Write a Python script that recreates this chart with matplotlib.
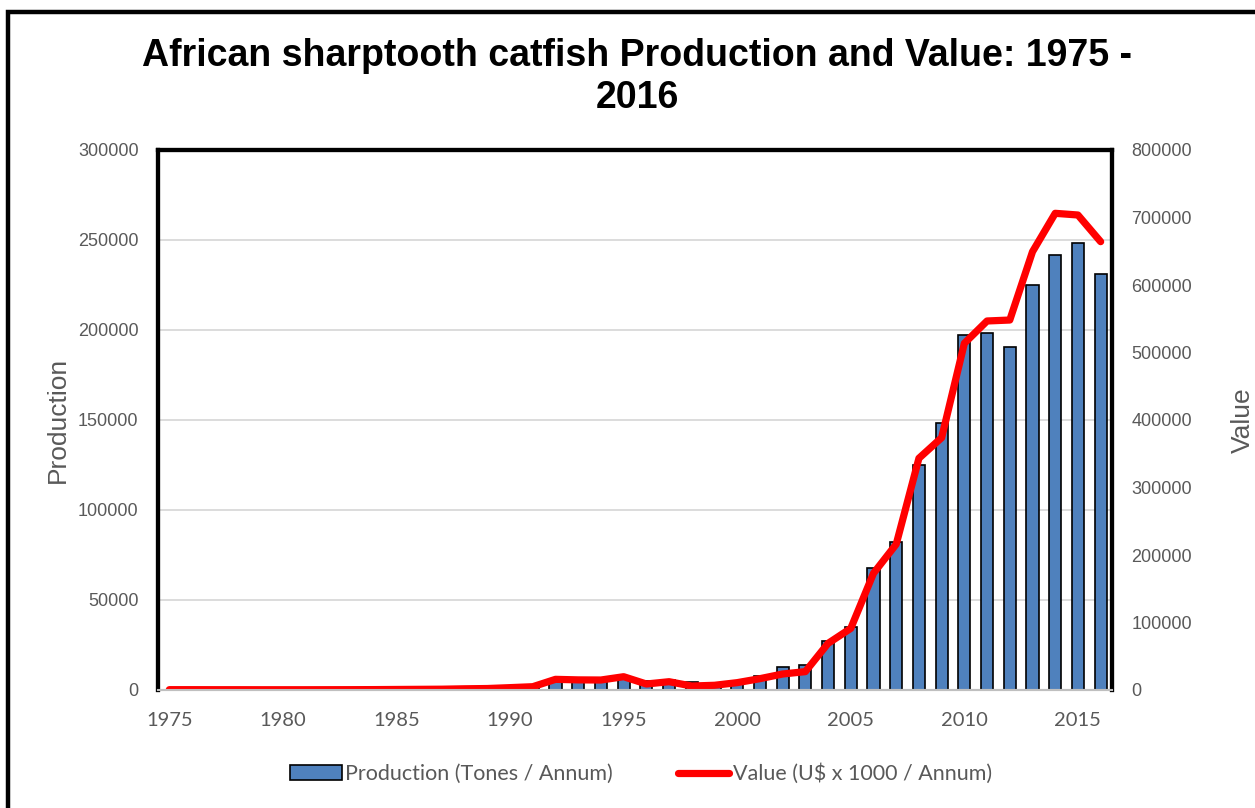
import matplotlib.pyplot as plt
import matplotlib.patches as mpatches
from matplotlib.lines import Line2D
import numpy as np

years = list(range(1975, 2017))
production = [200, 150, 150, 150, 150, 150, 150, 150, 200, 250,
              300, 400, 500, 700, 900, 1500, 2500, 6000, 5500, 5000,
              6500, 5000, 5500, 4500, 4000, 5000, 8000, 13000, 14000, 27300,
              35200, 67600, 82400, 125000, 148300, 197000, 198300, 190400, 225000, 241700,
              248200, 231000]
value = [500, 500, 450, 450, 400, 400, 400, 450, 500, 600,
         800, 1000, 1200, 1800, 2200, 3500, 4900, 15800, 15000, 14800,
         19700, 8900, 12300, 5900, 7000, 10900, 16800, 23700, 27200, 69100,
         91300, 172900, 216000, 343300, 373800, 513600, 546700, 548100, 649300, 706200,
         703700, 664200]

bar_color = '#4F81BD'
grey = '#595959'

x = np.arange(len(years))

fig = plt.figure(figsize=(12.55, 8.08), dpi=100)
ax = fig.add_axes([158/1255, 1 - 690/808, (1112 - 158)/1255, (690 - 150)/808])
ax2 = ax.twinx()

ax.bar(x, production, width=0.53, color=bar_color, edgecolor='black', linewidth=1.2, zorder=2)
ax2.plot(x, value, color='#FF0000', linewidth=5.2, solid_capstyle='round', solid_joinstyle='round')

ax.set_xlim(-0.5, len(years) - 0.5)
ax.set_ylim(0, 300000)
ax2.set_ylim(0, 800000)
ax.set_yticks(range(0, 300001, 50000))
ax2.set_yticks(range(0, 800001, 100000))
ax.yaxis.grid(True, color='#D9D9D9', linewidth=1.3, zorder=0)
ax.set_axisbelow(True)

ticks = [i for i, y in enumerate(years) if y % 5 == 0]
ax.set_xticks(ticks)
ax.set_xticklabels([str(years[i]) for i in ticks], family='Lato', fontsize=14.5, color=grey)
ax.tick_params(axis='x', length=0, pad=16)
ax.tick_params(axis='y', length=0, pad=14, labelsize=13, labelcolor=grey)
ax2.tick_params(axis='y', length=0, pad=14, labelsize=13, labelcolor=grey)
for lab in ax.get_yticklabels() + ax2.get_yticklabels():
    lab.set_family('Liberation Sans')

for a in (ax, ax2):
    for side in ('top', 'left', 'right'):
        a.spines[side].set_color('black')
        a.spines[side].set_linewidth(3)
    a.spines['bottom'].set_color('#BFBFBF')
    a.spines['bottom'].set_linewidth(1.5)

ax.set_ylabel('Production', family='Liberation Sans', fontsize=19, color=grey, labelpad=5.5)
ax2.set_ylabel('Value', family='Liberation Sans', fontsize=19, color=grey, labelpad=28)

fig.text(637/1255, 1 - 77/808, 'African sharptooth catfish Production and Value: 1975 -\n2016',
         ha='center', va='center', family='Liberation Sans', fontweight='bold',
         fontsize=27, linespacing=1.2)

handles = [mpatches.Patch(facecolor=bar_color, edgecolor='black', linewidth=1.2),
           Line2D([0], [0], color='#FF0000', linewidth=5.2, solid_capstyle='round')]
fig.legend(handles, ['Production (Tones / Annum)', 'Value (U$ x 1000 / Annum)'],
           loc='center', bbox_to_anchor=(641/1255, 1 - 774/808), ncol=2, frameon=False,
           prop={'family': 'Lato', 'size': 15.5}, labelcolor=grey,
           handlelength=2.4, handletextpad=0.15, columnspacing=3.0)

# outer chart frame (only left/top visible in the crop)
fig.patches.append(mpatches.Rectangle((8/1255, -0.1), 1.2, 1 - 12/808 + 0.1,
                                      transform=fig.transFigure, fill=False,
                                      edgecolor='black', linewidth=3.2))

plt.savefig('out.png', dpi=100)
